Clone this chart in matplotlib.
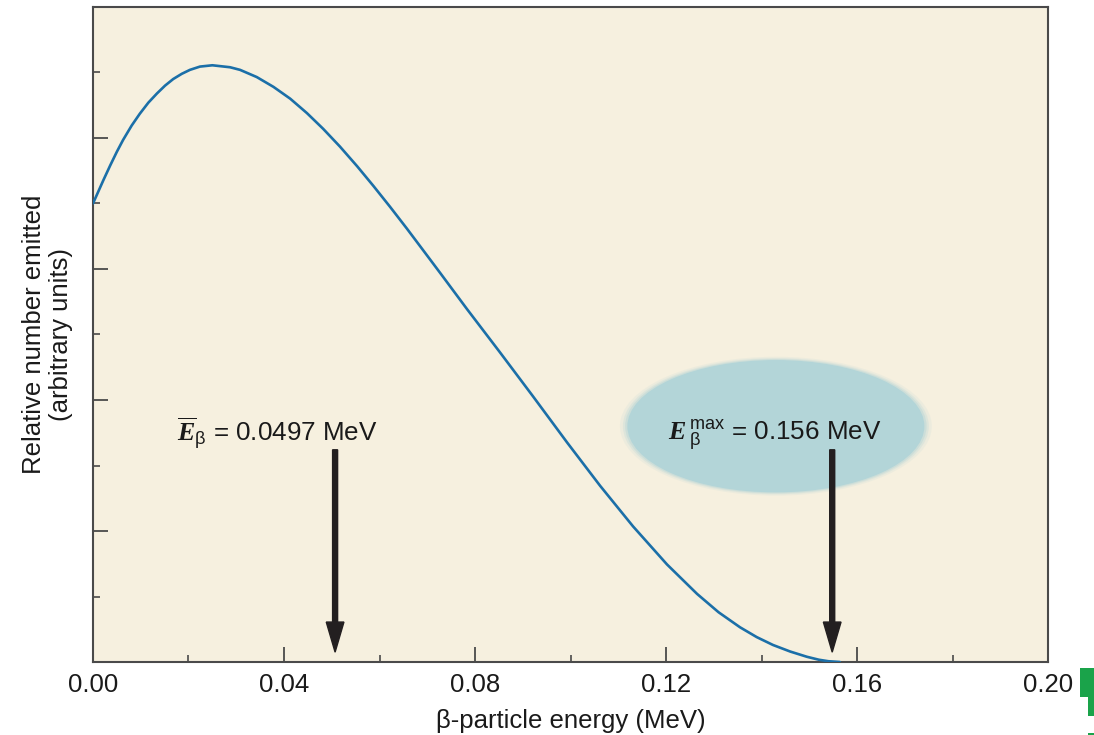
import numpy as np
import matplotlib
matplotlib.use("Agg")
import matplotlib.pyplot as plt
from matplotlib.patches import Ellipse, FancyArrow, Rectangle

plt.rcParams['font.family'] = ['Liberation Sans', 'DejaVu Sans']
plt.rcParams['mathtext.fontset'] = 'custom'
plt.rcParams['mathtext.rm'] = 'Liberation Sans'
plt.rcParams['mathtext.it'] = 'Liberation Serif:italic:bold'
plt.rcParams['mathtext.bf'] = 'Liberation Sans:bold'

# spectrum (energy in MeV, relative number)
energy = [0.0000, 0.0022, 0.0036, 0.0050, 0.0063, 0.0081, 0.0098, 0.0116,
          0.0134, 0.0151, 0.0168, 0.0186, 0.0203, 0.0224, 0.0250, 0.0287,
          0.0308, 0.0343, 0.0378, 0.0413, 0.0448, 0.0482, 0.0517, 0.0553,
          0.0587, 0.0622, 0.0657, 0.0691, 0.0727, 0.0783, 0.0852, 0.0921,
          0.0993, 0.1062, 0.1131, 0.1202, 0.1265, 0.1310, 0.1355, 0.1390,
          0.1424, 0.1460, 0.1495, 0.1520, 0.1540, 0.1564]
counts = [7.00, 7.36, 7.58, 7.79, 7.97, 8.19, 8.37, 8.54,
          8.68, 8.80, 8.90, 8.98, 9.04, 9.09, 9.11, 9.08,
          9.04, 8.93, 8.78, 8.60, 8.38, 8.14, 7.87, 7.57,
          7.27, 6.95, 6.62, 6.29, 5.94, 5.39, 4.73, 4.06,
          3.35, 2.69, 2.07, 1.49, 1.04, 0.76, 0.53, 0.38,
          0.26, 0.16, 0.08, 0.035, 0.012, 0.00]

x_ticks = [0.00, 0.04, 0.08, 0.12, 0.16, 0.20]
x_labels = ["0.00", "0.04", "0.08", "0.12", "0.16", "0.20"]
mean_arrow_x = 0.0507
max_arrow_x = 0.1548

bg = '#f6f0df'
line_col = '#1b6fa8'
dark = '#231f20'
axis_col = '#4a4a4a'

fig = plt.figure(figsize=(10.94, 7.35), dpi=100)
ax = fig.add_axes([0.0850, 0.0993, 0.8730, 0.8912])
ax.set_facecolor(bg)

ax.plot(energy, counts, color=line_col, lw=1.9, solid_capstyle='round',
        solid_joinstyle='round', zorder=3)

ax.set_xlim(0, 0.20)
ax.set_ylim(0, 10)

ax.set_xticks(x_ticks)
ax.set_xticklabels(x_labels, fontsize=18.5, color='#1a1a1a')
ax.set_xticks([0.02, 0.06, 0.10, 0.14, 0.18], minor=True)
ax.set_yticks([2, 4, 6, 8])
ax.set_yticks([1, 3, 5, 7, 9], minor=True)
ax.set_yticklabels([])
ax.tick_params(which='major', direction='in', length=10.5, width=1.3, color=axis_col, pad=8)
ax.tick_params(which='minor', direction='in', length=5, width=1.2, color=axis_col)
for s in ax.spines.values():
    s.set_color(axis_col)
    s.set_linewidth(1.5)

ax.set_xlabel("β-particle energy (MeV)", fontsize=18.5, color='#1a1a1a')
ax.xaxis.set_label_coords(0.5, -0.071)
ax.set_ylabel("Relative number emitted\n(arbitrary units)", fontsize=18.5,
              color='#1a1a1a', linespacing=1.15)
ax.yaxis.set_label_coords(-0.021, 0.5)

# soft-edged ellipse behind the E max label
ecx, ecy, ew, eh = 0.1430, 3.60, 0.0622, 2.02
for k, a in [(1.05, 0.15), (1.03, 0.25), (1.015, 0.4)]:
    ax.add_patch(Ellipse((ecx, ecy), ew * k, eh * k, facecolor='#b3d5d8',
                         edgecolor='none', alpha=a, zorder=2))
ax.add_patch(Ellipse((ecx, ecy), ew, eh, facecolor='#b3d5d8',
                     edgecolor='none', zorder=2))

# arrows
for xa in [mean_arrow_x, max_arrow_x]:
    ax.add_patch(FancyArrow(xa, 3.24, 0, -3.09, width=0.00105, head_width=0.0037,
                            head_length=0.46, length_includes_head=True,
                            color=dark, zorder=4))

ax.text(0.0176, 3.37, r"$\overline{E}_{\mathrm{\beta}}$ = 0.0497 MeV",
        fontsize=18.7, color='#1a1a1a', va='baseline', ha='left', zorder=5)
ax.text(0.1204, 3.37, r"$E\,{}_{\mathrm{\beta}}^{\mathrm{max}}$ = 0.156 MeV",
        fontsize=18.7, color='#1a1a1a', va='baseline', ha='left', zorder=5)

# green marks at the lower right edge
green = '#1aa34a'
fig.add_artist(Rectangle((1080 / 1094, 38 / 735), 14 / 1094, 29 / 735,
                         transform=fig.transFigure, color=green, lw=0))
fig.add_artist(Rectangle((1088 / 1094, 19 / 735), 6 / 1094, 19 / 735,
                         transform=fig.transFigure, color=green, lw=0))
fig.add_artist(Rectangle((1088 / 1094, 0), 6 / 1094, 2 / 735,
                         transform=fig.transFigure, color=green, lw=0))

fig.savefig("out.png", dpi=100)
